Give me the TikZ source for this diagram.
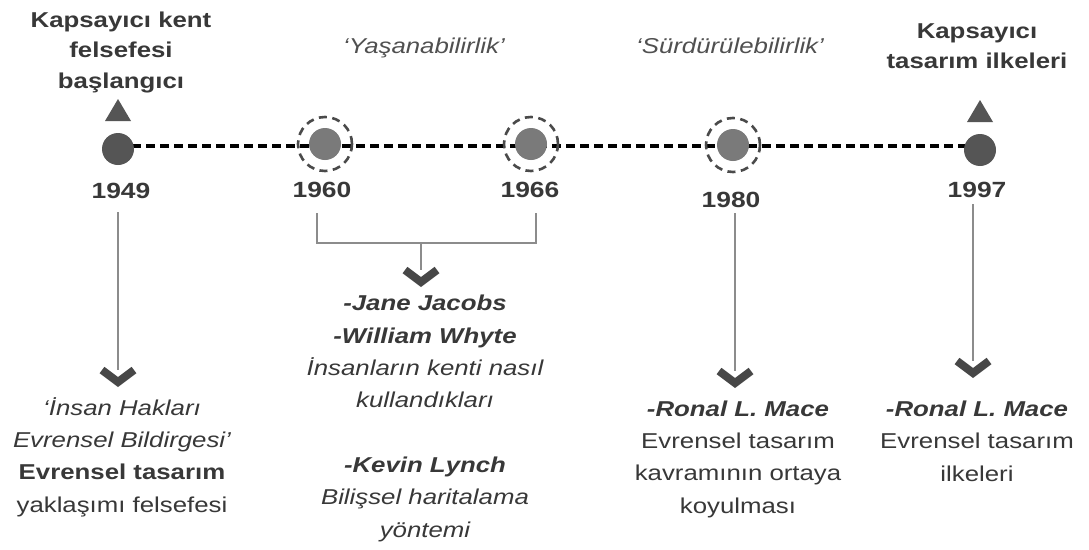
\documentclass[tikz,border=0pt]{standalone}
\usepackage{fontspec}
\setmainfont{Liberation Sans}[FakeStretch=1.2]
\definecolor{textcol}{HTML}{383838}
\definecolor{softtext}{HTML}{505050}
\definecolor{darkdot}{HTML}{555555}
\definecolor{lightdot}{HTML}{7A7A7A}
\definecolor{ringcol}{HTML}{4A4A4A}
\definecolor{conncol}{HTML}{8C8C8C}
\definecolor{chevcol}{HTML}{474747}
\tikzset{
  txt/.style={font=\fontsize{21.5}{32.3}\selectfont, text=textcol, align=center, inner sep=0pt, anchor=base},
  yeartxt/.style={font=\fontsize{22}{26}\selectfont\bfseries, text=textcol, inner sep=0pt, anchor=base},
  timeline/.style={draw=black, line width=3.2pt, dash pattern=on 9pt off 5pt},
  soliddot/.style={circle, fill=darkdot, minimum size=32pt, inner sep=0pt},
  ringdot/.style={circle, fill=lightdot, minimum size=32pt, inner sep=0pt},
  ring/.style={circle, draw=ringcol, line width=2.6pt, dash pattern=on 8pt off 5.5pt, minimum size=54pt, inner sep=0pt},
  conn/.style={draw=conncol, line width=1.5pt},
  chev/.style={draw=chevcol, line width=8pt, line join=miter},
  tri/.style={fill=darkdot}
}
\begin{document}
\begin{tikzpicture}[x=1pt,y=-1pt]
\useasboundingbox (0,0) rectangle (1089,549);
\fill[white] (0,0) rectangle (1089,549);

% timeline
\coordinate (tlstart) at (118,146);
\coordinate (tlend) at (980,146);
\draw[timeline] (tlstart) -- (tlend);

% dots
\node[soliddot] (p1949) at (118,149) {};
\node[ring] (r1960) at (325,144) {};
\node[ringdot] (p1960) at (325,144) {};
\node[ring] (r1966) at (531,144) {};
\node[ringdot] (p1966) at (531,144) {};
\node[ring] (r1980) at (733,145) {};
\node[ringdot] (p1980) at (733,145) {};
\node[soliddot] (p1997) at (980,150) {};

% triangles
\coordinate (t1) at (118,110);
\fill[tri] ([shift={(-13,11)}]t1) -- ([shift={(0,-11)}]t1) -- ([shift={(13,11)}]t1) -- cycle;
\coordinate (t2) at (980,111);
\fill[tri] ([shift={(-13,11)}]t2) -- ([shift={(0,-11)}]t2) -- ([shift={(13,11)}]t2) -- cycle;

% years
\node[yeartxt] (y1949) at (121,198) {1949};
\node[yeartxt] (y1960) at (322,197) {1960};
\node[yeartxt] (y1966) at (530,197) {1966};
\node[yeartxt] (y1980) at (731,207) {1980};
\node[yeartxt] (y1997) at (977,197) {1997};

% top labels (base anchor = last line's baseline)
\node[txt, font=\fontsize{21.5}{30.5}\selectfont\bfseries] (topleft) at (121,88) {Kapsayıcı kent\\felsefesi\\başlangıcı};
\node[txt, font=\fontsize{21.5}{30}\selectfont\bfseries] (topright) at (977,68) {Kapsayıcı\\tasarım ilkeleri};
\node[txt, text=softtext, font=\fontsize{21.5}{30}\selectfont\itshape] (yasan) at (424,53) {‘Yaşanabilirlik’};
\node[txt, text=softtext, font=\fontsize{21.5}{30}\selectfont\itshape] (surdur) at (730,53) {‘Sürdürülebilirlik’};

% chevrons
\coordinate (c1) at (118,376);
\coordinate (c2) at (421,276);
\coordinate (c3) at (735,377);
\coordinate (c4) at (973,367);
\foreach \c in {c1,c2,c3,c4}{
  \draw[chev] ([shift={(-16,-6)}]\c) -- ([shift={(0,6)}]\c) -- ([shift={(16,-6)}]\c);
}

% connectors
\coordinate (s1) at (118,212);
\draw[conn] (s1) -- ([yshift=6pt]c1);
\coordinate (b1t) at (317,213);
\coordinate (b1) at (317,243);
\coordinate (b2) at (536,243);
\coordinate (b2t) at (536,213);
\coordinate (bm) at (421,243);
\draw[conn] (b1t) -- (b1) -- (b2) -- (b2t);
\draw[conn] (bm) -- ([yshift=6pt]c2);
\coordinate (s3) at (735,213);
\draw[conn] (s3) -- ([yshift=6pt]c3);
\coordinate (s4) at (973,204);
\draw[conn] (s4) -- ([yshift=6pt]c4);

% bottom texts (base anchor = last line's baseline)
\node[txt] (b1949) at (122,512) {\itshape ‘İnsan Hakları\\\itshape Evrensel Bildirgesi’\\\bfseries Evrensel tasarım\\yaklaşımı felsefesi};
\node[txt] (b1960) at (425,537) {\bfseries\itshape -Jane Jacobs\\\bfseries\itshape -William Whyte\\\itshape İnsanların kenti nasıl\\\itshape kullandıkları\\[32.3pt]\bfseries\itshape -Kevin Lynch\\\itshape Bilişsel haritalama\\\itshape yöntemi};
\node[txt] (b1980) at (738,513) {\bfseries\itshape -Ronal L. Mace\\Evrensel tasarım\\kavramının ortaya\\koyulması};
\node[txt] (b1997) at (977,481) {\bfseries\itshape -Ronal L. Mace\\Evrensel tasarım\\ilkeleri};
\end{tikzpicture}
\end{document}
